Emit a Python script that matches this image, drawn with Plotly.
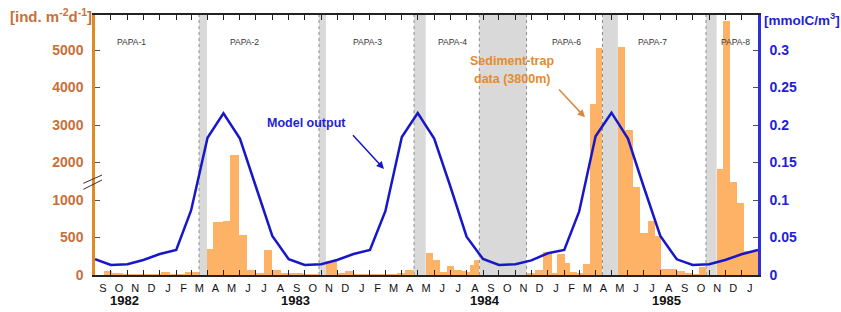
import pandas as pd
import plotly.graph_objects as go

# ---------------- data ----------------
# Sediment-trap samples at 3800 m (ind. m-2 d-1): sample start, end, flux
sample_start = [
    "1982-09-18", "1982-10-03", "1982-10-23", "1982-11-22", "1982-12-08", "1983-01-03", "1983-01-20", "1983-02-17",
    "1983-03-31", "1983-04-12", "1983-04-30", "1983-05-14", "1983-05-31", "1983-06-15", "1983-07-01", "1983-07-16",
    "1983-08-01", "1983-08-17", "1983-09-01", "1983-09-28",
    "1983-11-10", "1983-11-30", "1983-12-16", "1983-12-31", "1984-01-31", "1984-03-03", "1984-03-22", "1984-04-07",
    "1984-05-16", "1984-05-29", "1984-06-12", "1984-06-25", "1984-07-09", "1984-07-23", "1984-08-01", "1984-08-07",
    "1984-08-15",
    "1984-11-22", "1984-12-08", "1984-12-23", "1985-01-08", "1985-01-18", "1985-02-02", "1985-02-12", "1985-02-25",
    "1985-03-09", "1985-03-21", "1985-04-01",
    "1985-05-13", "1985-05-27", "1985-06-10", "1985-06-24", "1985-07-09", "1985-07-22", "1985-08-03", "1985-08-18",
    "1985-09-01", "1985-09-16", "1985-09-30", "1985-10-12",
    "1985-11-15", "1985-11-27", "1985-12-10", "1985-12-24", "1986-01-06",
]
sample_end = [
    "1982-10-03", "1982-10-23", "1982-11-22", "1982-12-08", "1983-01-03", "1983-01-20", "1983-02-17", "1983-03-16",
    "1983-04-12", "1983-04-30", "1983-05-14", "1983-05-31", "1983-06-15", "1983-07-01", "1983-07-16", "1983-08-01",
    "1983-08-17", "1983-09-01", "1983-09-28", "1983-10-28",
    "1983-11-30", "1983-12-16", "1983-12-31", "1984-01-31", "1984-03-03", "1984-03-22", "1984-04-07", "1984-04-24",
    "1984-05-29", "1984-06-12", "1984-06-25", "1984-07-09", "1984-07-23", "1984-08-01", "1984-08-07", "1984-08-15",
    "1984-08-25",
    "1984-12-08", "1984-12-23", "1985-01-08", "1985-01-18", "1985-02-02", "1985-02-12", "1985-02-25", "1985-03-09",
    "1985-03-21", "1985-04-01", "1985-04-14",
    "1985-05-27", "1985-06-10", "1985-06-24", "1985-07-09", "1985-07-22", "1985-08-03", "1985-08-18", "1985-09-01",
    "1985-09-16", "1985-09-30", "1985-10-12", "1985-10-26",
    "1985-11-27", "1985-12-10", "1985-12-24", "1986-01-06", "1986-02-05",
]
trap_flux = [
    57, 28, 4, 12, 3, 36, 8, 42,
    342, 705, 722, 2200, 538, 70, 20, 333,
    70, 33, 15, 6,
    185, 20, 50, 8, 5, 12, 30, 67,
    300, 195, 45, 125, 70, 55, 45, 135,
    200,
    25, 70, 305, 15, 285, 155, 45, 25,
    150, 3560, 5050,
    5070, 2860, 1340, 565, 724, 522, 85, 75,
    60, 15, 10, 102,
    1830, 5780, 1480, 956, 315,
]

# Model output (mmolC/m3), monthly, at the start of each month
model_dates = pd.date_range("1982-09-01", "1986-02-01", freq="MS")
model_values = [
    0.021, 0.0133, 0.0143, 0.020,
    0.028, 0.0333, 0.086, 0.183, 0.2156, 0.182, 0.118, 0.052, 0.021, 0.0133, 0.0143, 0.020,
    0.028, 0.0333, 0.085, 0.184, 0.216, 0.182, 0.119, 0.051, 0.0213, 0.0135, 0.0143, 0.0195,
    0.029, 0.0333, 0.0844, 0.185, 0.2164, 0.182, 0.117, 0.052, 0.0209, 0.0133, 0.0143, 0.020,
    0.0276, 0.0333,
]

# Gaps between trap deployments
gap_start = ["1983-03-16", "1983-10-28", "1984-04-24", "1984-08-25", "1985-04-14", "1985-10-26"]
gap_end = ["1983-03-31", "1983-11-10", "1984-05-16", "1984-11-22", "1985-05-13", "1985-11-15"]

# Deployment labels
deploy_names = ["PAPA-1", "PAPA-2", "PAPA-3", "PAPA-4", "PAPA-6", "PAPA-7", "PAPA-8"]
deploy_label_x = ["1982-11-08", "1983-06-09", "1984-01-27", "1984-07-06", "1985-02-06", "1985-07-18", "1985-12-20"]

# Axis tick labels
month_letters = list("SONDJFMAMJJASONDJFMAMJJASONDJFMAMJJASONDJ")
year_labels = ["1982", "1983", "1984", "1985"]
year_label_x = ["1982-10-27", "1983-09-14", "1984-09-05", "1985-08-13"]

left_ticks = [0, 500, 1000, 2000, 3000, 4000, 5000]
right_ticks = [0, 0.05, 0.1, 0.15, 0.2, 0.25, 0.3]

# ---------------- build ----------------
X0, X1 = "1982-09-01", "1986-02-01"
ORANGE_TXT = "#C8703A"
ORANGE_AX = "#E08A22"
BAR = "#FDB266"
BLUE = "#1717C9"
BLUE_TXT = "#1F1FD6"
FONT = "Arial, Liberation Sans, sans-serif"


def brk(v):
    # broken axis: full scale up to 1000, half scale above
    return v if v <= 1000 else 1000 + (v - 1000) / 2.0


s = pd.to_datetime(sample_start)
e = pd.to_datetime(sample_end)
mid = s + (e - s) / 2
widths = list((e - s).total_seconds() * 1000.0)

month_starts = pd.date_range(X0, X1, freq="MS")
month_mids = [month_starts[i] + (month_starts[i + 1] - month_starts[i]) / 2 for i in range(len(month_starts) - 1)]

fig = go.Figure()
fig.add_trace(go.Bar(
    x=list(mid), y=[brk(v) for v in trap_flux], width=widths,
    customdata=trap_flux, hovertemplate="%{customdata}<extra></extra>",
    marker=dict(color=BAR, line=dict(width=0)), xaxis="x", yaxis="y", showlegend=False,
))
fig.add_trace(go.Scatter(
    x=list(model_dates), y=model_values, mode="lines",
    line=dict(color=BLUE, width=2.5), xaxis="x", yaxis="y2", showlegend=False,
))
fig.add_trace(go.Scatter(
    x=[month_mids[0]], y=[None], mode="markers", xaxis="x2", yaxis="y",
    showlegend=False, hoverinfo="skip",
))

shapes = []
for i, (a, b) in enumerate(zip(gap_start, gap_end)):
    shapes.append(dict(type="rect", xref="x", yref="paper", x0=a, x1=b, y0=0, y1=1,
                       fillcolor="#D9D9D9", line=dict(width=0), layer="below"))
    shapes.append(dict(type="line", xref="x", yref="paper", x0=a, x1=a, y0=0, y1=1,
                       line=dict(color="#8C8C8C", width=1, dash="dot"), layer="below"))
    if i == 3:
        shapes.append(dict(type="line", xref="x", yref="paper", x0=b, x1=b, y0=0, y1=1,
                           line=dict(color="#8C8C8C", width=1, dash="dot"), layer="below"))
# axis break marks
for y0, y1 in [(1222, 1333), (1142, 1267)]:
    shapes.append(dict(type="line", xref="paper", yref="y", x0=-0.0176, x1=0.0106, y0=y0, y1=y1,
                       line=dict(color="#333333", width=1)))

W, H, L, T = 663.0, 260.0, 95.0, 15.0


def px(xp):
    return (xp - L) / W


def py(yp):
    return (T + H - yp) / H


annotations = []
for name, xd in zip(deploy_names, deploy_label_x):
    annotations.append(dict(text=name, x=xd, xref="x", xanchor="center", y=py(35), yref="paper",
                            showarrow=False, font=dict(family=FONT, size=8.5, color="#333333")))
for yl, xd in zip(year_labels, year_label_x):
    annotations.append(dict(text="<b>" + yl + "</b>", x=xd, xref="x", xanchor="center", y=py(300.5),
                            yref="paper", showarrow=False, yanchor="middle",
                            font=dict(family=FONT, size=13, color="#111111")))
annotations += [
    dict(text="<b>[ind. m<sup>-2</sup>d<sup>-1</sup>]</b>", x=px(8), xref="paper", xanchor="left",
         y=py(16), yref="paper", yanchor="middle", showarrow=False,
         font=dict(family=FONT, size=15, color=ORANGE_TXT)),
    dict(text="<b>[mmolC/m<sup>3</sup>]</b>", x=px(762), xref="paper", xanchor="left",
         y=py(19), yref="paper", yanchor="middle", showarrow=False,
         font=dict(family=FONT, size=13.5, color=BLUE_TXT)),
    dict(text="<b>Model output</b>", x=px(306), xref="paper", xanchor="center", y=py(123.5),
         yref="paper", yanchor="middle", showarrow=False,
         font=dict(family=FONT, size=12.5, color=BLUE_TXT)),
    dict(text=" ", x=px(384), xref="paper", y=py(169), yref="paper", showarrow=True,
         ax=-34, ay=-37, axref="pixel", ayref="pixel", arrowhead=2, arrowsize=1,
         arrowwidth=1.5, arrowcolor=BLUE),
    dict(text="<b>Sediment-trap</b>", x=px(512), xref="paper", xanchor="center", y=py(60.7),
         yref="paper", yanchor="middle", showarrow=False,
         font=dict(family=FONT, size=12.5, color="#E58B2C")),
    dict(text="<b>data (3800m)</b>", x=px(512), xref="paper", xanchor="center", y=py(79.3),
         yref="paper", yanchor="middle", showarrow=False,
         font=dict(family=FONT, size=12.5, color="#E58B2C")),
    dict(text=" ", x=px(585), xref="paper", y=py(117.3), yref="paper", showarrow=True,
         ax=-29, ay=-31, axref="pixel", ayref="pixel", arrowhead=2, arrowsize=1,
         arrowwidth=1.5, arrowcolor="#D9893A"),
]

fig.update_layout(
    width=841, height=312,
    margin=dict(l=95, r=83, t=15, b=37, pad=0),
    paper_bgcolor="white", plot_bgcolor="white",
    bargap=0, showlegend=False,
    shapes=shapes, annotations=annotations,
    font=dict(family=FONT),
    xaxis=dict(
        type="date", range=[X0, X1], tickmode="array", tickvals=list(month_starts),
        showticklabels=False,
        ticks="inside", ticklen=5, tickwidth=1, tickcolor="#222222",
        showline=True, linecolor="#222222", linewidth=1.5, mirror="ticks",
        showgrid=False, zeroline=False, fixedrange=True,
    ),
    xaxis2=dict(
        type="date", range=[X0, X1], overlaying="x", anchor="y", side="bottom",
        tickmode="array", tickvals=month_mids, ticktext=month_letters,
        ticks="", showline=False, showgrid=False, zeroline=False,
        tickfont=dict(family=FONT, size=11, color="#111111"), ticklabelstandoff=5,
    ),
    yaxis=dict(
        range=[0, 3466.7], tickmode="array", tickvals=[brk(v) for v in left_ticks],
        ticktext=[str(v) for v in left_ticks],
        ticks="inside", ticklen=5, tickwidth=1, tickcolor="#555555",
        showline=True, linecolor=ORANGE_AX, linewidth=2.5,
        showgrid=False, zeroline=False, ticklabelstandoff=6,
        tickfont=dict(family=FONT, size=14, color=ORANGE_TXT, weight="bold"),
    ),
    yaxis2=dict(
        range=[0, 0.346667], overlaying="y", side="right", anchor="x",
        tickmode="array", tickvals=right_ticks, ticktext=[str(v) if v else "0" for v in right_ticks],
        ticks="inside", ticklen=5, tickwidth=1, tickcolor="#555555",
        showline=True, linecolor="#2E2EDB", linewidth=2.5,
        showgrid=False, zeroline=False, ticklabelstandoff=6,
        tickfont=dict(family=FONT, size=14, color=BLUE_TXT, weight="bold"),
    ),
)

fig.write_html("out.html", config={"displayModeBar": False},
               post_script="document.body.style.margin='0';document.body.style.padding='0';")
